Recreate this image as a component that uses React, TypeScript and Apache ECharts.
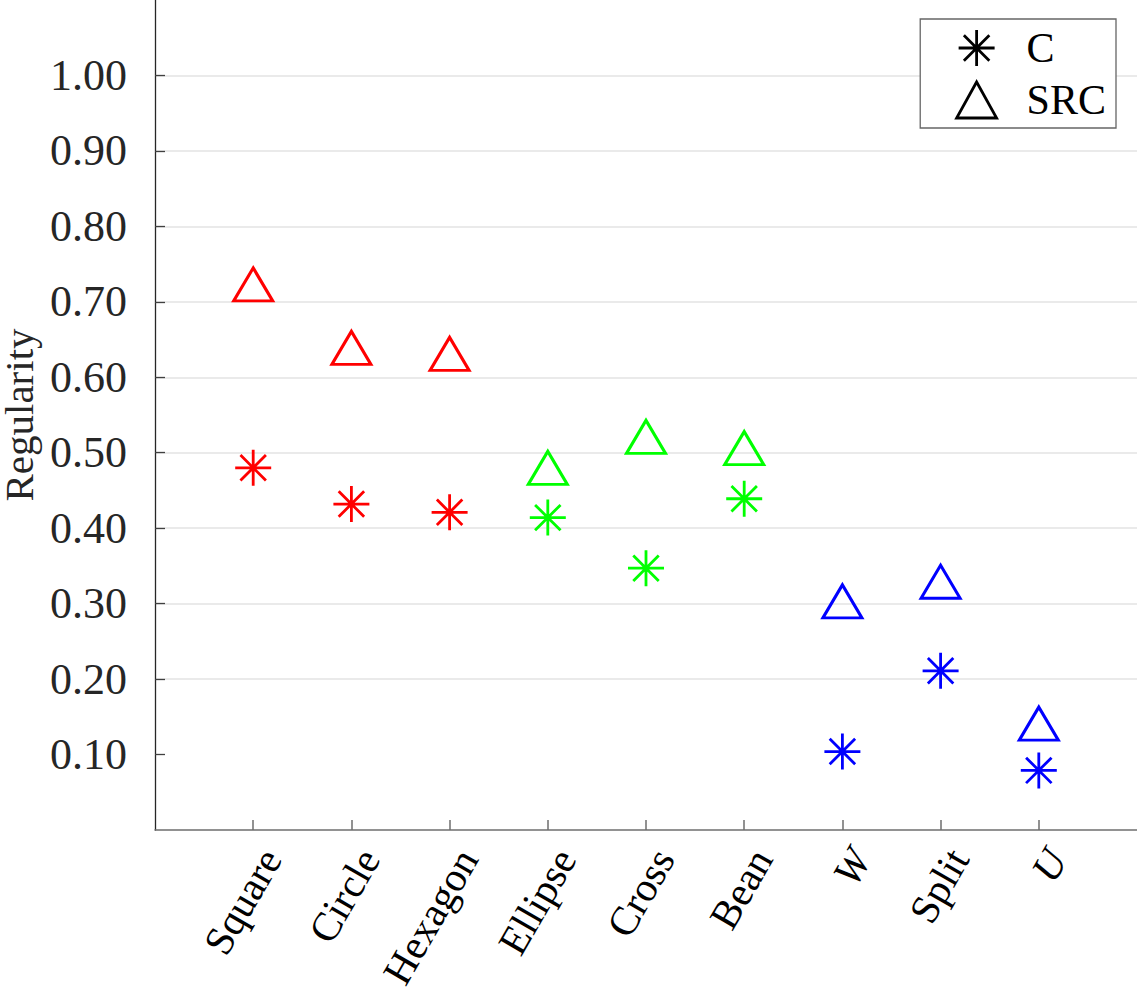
import React, { useEffect, useRef } from "react";
import * as echarts from "echarts";

const categories = ["Square", "Circle", "Hexagon", "Ellipse", "Cross", "Bean", "W", "Split", "U"];
const italicCats = ["W", "U"];
const groupColors = ["#ff0000", "#ff0000", "#ff0000", "#00ff00", "#00ff00", "#00ff00", "#0000ff", "#0000ff", "#0000ff"];
const cValues = [0.480, 0.432, 0.421, 0.414, 0.347, 0.439, 0.104, 0.211, 0.079];
const srcValues = [0.723, 0.639, 0.631, 0.480, 0.521, 0.506, 0.303, 0.329, 0.141];
const yTicks = [0.1, 0.2, 0.3, 0.4, 0.5, 0.6, 0.7, 0.8, 0.9, 1.0];

const STAR = "path://M0,-10L0,10M-10,0L10,0M-7.07,-7.07L7.07,7.07M-7.07,7.07L7.07,-7.07";
const FONT = "Liberation Serif";
const TXT = "#262626";

export default function App() {
  const ref = useRef<HTMLDivElement>(null);
  useEffect(() => {
    document.body.style.margin = "0";
    const chart = echarts.init(ref.current!, null, { renderer: "svg" });
    const positions = categories.map((_, i) => i + 1);
    const option: any = {
      animation: false,
      backgroundColor: "#ffffff",
      grid: { left: 155, right: 0, top: 0, bottom: 164, containLabel: false, outerBoundsMode: "none" },
      legend: {
        orient: "vertical",
        right: 21,
        top: 19,
        padding: [8, 10, 7, 35],
        itemGap: 10,
        itemWidth: 40,
        itemHeight: 36,
        backgroundColor: "#ffffff",
        borderColor: "#666666",
        borderWidth: 1.3,
        borderRadius: 0,
        itemStyle: { borderWidth: 2.8 },
        textStyle: { fontFamily: FONT, fontSize: 42, color: "#000", lineHeight: 36, padding: [0, 0, 0, 25] },
        data: [
          { name: "C", icon: STAR },
          { name: "SRC", icon: "triangle" },
        ],
      },
      xAxis: {
        type: "value",
        min: 0,
        max: 10,
        interval: 1,
        splitLine: { show: false },
        axisLine: { show: true, onZero: false, lineStyle: { color: "#6e6e6e", width: 1.5 } },
        axisTick: { show: true, inside: true, length: 10, customValues: positions, lineStyle: { color: "#6e6e6e", width: 1.5 } },
        axisLabel: {
          customValues: positions,
          rotate: 60,
          margin: 12,
          verticalAlign: "top",
          fontFamily: FONT,
          fontSize: 41,
          color: "#000",
          formatter: (v: number) => {
            const name = categories[Math.round(v) - 1] ?? "";
            return italicCats.includes(name) ? `{i|${name}}` : name;
          },
          rich: { i: { fontFamily: FONT, fontSize: 41, fontStyle: "italic", color: "#000" } },
        },
      },
      yAxis: {
        type: "value",
        min: 0,
        max: 1.1,
        interval: 0.1,
        name: "Regularity",
        nameLocation: "middle",
        nameGap: 104,
        nameTextStyle: { fontFamily: FONT, fontSize: 41, color: TXT },
        axisLine: { show: true, lineStyle: { color: "#262626", width: 1.3 } },
        axisTick: { show: true, inside: true, length: 10, customValues: yTicks, lineStyle: { color: "#404040", width: 1.3 } },
        axisLabel: {
          customValues: yTicks,
          margin: 28,
          fontFamily: FONT,
          fontSize: 44,
          color: TXT,
          formatter: (v: number) => v.toFixed(2),
        },
        splitLine: {
          show: true,
          lineStyle: {
            color: ["transparent", "#e3e3e3", "#e3e3e3", "#e3e3e3", "#e3e3e3", "#e3e3e3", "#e3e3e3", "#e3e3e3", "#e3e3e3", "#e3e3e3", "#e3e3e3", "transparent"],
            width: 1.5,
          },
        },
      },
      series: [
        {
          name: "C",
          type: "scatter",
          symbol: STAR,
          symbolSize: 36,
          itemStyle: { color: "#000", borderColor: "#000", borderWidth: 2.8, opacity: 1 },
          data: cValues.map((v, i) => ({
            value: [i + 1, v],
            itemStyle: { color: groupColors[i], borderColor: groupColors[i] },
          })),
        },
        {
          name: "SRC",
          type: "scatter",
          symbol: "triangle",
          symbolSize: [39, 33],
          itemStyle: { color: "rgba(0,0,0,0)", borderColor: "#000", borderWidth: 3, opacity: 1 },
          data: srcValues.map((v, i) => ({
            value: [i + 1, v],
            itemStyle: { borderColor: groupColors[i] },
          })),
        },
      ],
    };
    chart.setOption(option);
    return () => chart.dispose();
  }, []);
  return <div ref={ref} style={{ width: 1137, height: 994 }} />;
}
